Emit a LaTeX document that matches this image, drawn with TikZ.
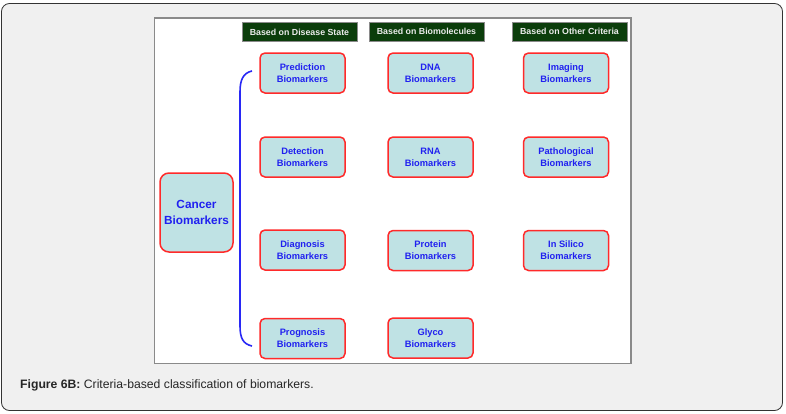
\documentclass[tikz,border=0pt]{standalone}
\usepackage{fontspec}
\setmainfont{Liberation Sans}
\definecolor{panelbg}{HTML}{F0F0F0}
\definecolor{panelline}{HTML}{333333}
\definecolor{innerline}{HTML}{8A8A8A}
\definecolor{boxfill}{HTML}{BFE2E4}
\definecolor{boxline}{HTML}{FF2A2A}
\definecolor{boxtext}{HTML}{2020F0}
\definecolor{headfill}{HTML}{0B3D0B}
\definecolor{bracecol}{HTML}{2828F5}
\begin{document}
\begin{tikzpicture}[x=1pt,y=-1pt,
  bmbox/.style={draw=boxline,line width=1.5pt,fill=boxfill,rounded corners=5pt,
    minimum width=85pt,minimum height=40pt,inner sep=0pt,align=center,
    text=boxtext,font=\fontsize{9.3}{12}\selectfont\bfseries},
  headbox/.style={draw=innerline,line width=0.4pt,fill=headfill,text=white!92!black,inner sep=0pt,
    minimum width=115pt,minimum height=19pt,font=\fontsize{8.8}{10}\selectfont\bfseries},
  bigbox/.style={bmbox,minimum width=73pt,minimum height=79pt,rounded corners=9pt,
    font=\fontsize{11.8}{16}\selectfont\bfseries}]
\useasboundingbox (0,0) rectangle (786,413);
\fill[white] (0,0) rectangle (786,413);
\draw[panelline,fill=panelbg,line width=0.8pt,rounded corners=8pt] (1.5,3.5) rectangle (782.5,410.5);
\draw[innerline,fill=white,line width=1.2pt] (154.5,18) rectangle (631,363.5);
% headers
\node[headbox] (h1) at (299.5,32) {Based on Disease State};
\node[headbox] (h2) at (426.5,31.5) {Based on Biomolecules};
\node[headbox] (h3) at (569.5,31.5) {Based on Other Criteria};
% main
\node[bigbox] (cb) at (196.5,212.5) {Cancer\\Biomarkers};
% column 1
\node[bmbox] (pred) at (302.5,73) {Prediction\\Biomarkers};
\node[bmbox] (det) at (302.5,157) {Detection\\Biomarkers};
\node[bmbox] (diag) at (302.5,250) {Diagnosis\\Biomarkers};
\node[bmbox] (prog) at (302.5,338.5) {Prognosis\\Biomarkers};
% column 2
\node[bmbox] (dna) at (430.5,73) {DNA\\Biomarkers};
\node[bmbox] (rna) at (430.5,157) {RNA\\Biomarkers};
\node[bmbox] (prot) at (430.5,250.5) {Protein\\Biomarkers};
\node[bmbox] (gly) at (430.5,338) {Glyco\\Biomarkers};
% column 3
\node[bmbox] (img) at (566,73) {Imaging\\Biomarkers};
\node[bmbox] (path) at (566,157) {Pathological\\Biomarkers};
\node[bmbox] (sil) at (566,250.5) {In Silico\\Biomarkers};
% brace
\coordinate (bt) at (252,71);
\coordinate (bb) at (252,346);
\draw[bracecol,line width=1.6pt] (bt) .. controls (243,73) and (240,80) .. (240,92)
  -- (240,326) .. controls (240,338) and (243,344) .. (bb);
% caption
\node[anchor=base west,inner sep=0pt,font=\fontsize{12.2}{14}\selectfont,text=black!85] (cap) at (20,388)
  {\textbf{Figure 6B:} Criteria-based classification of biomarkers.};
\end{tikzpicture}
\end{document}
